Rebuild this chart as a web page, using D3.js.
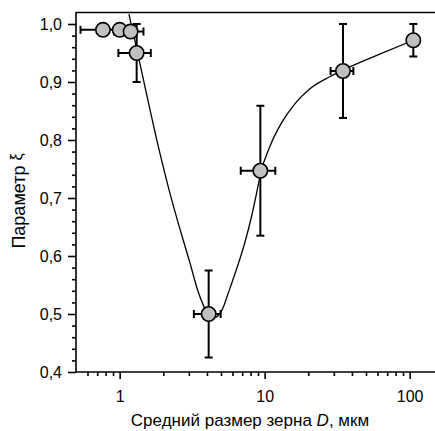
<!DOCTYPE html>
<html>
<head>
<meta charset="utf-8">
<script src="https://cdn.jsdelivr.net/npm/d3@7"></script>
<style>
  body { margin: 0; background: #fff; }
  svg text { font-family: "Liberation Sans", Arial, sans-serif; fill: #000; }
</style>
</head>
<body>
<div id="chart"></div>
<script>
// --- data ---
const grainD  = [0.767, 1.0, 1.19, 1.31, 4.11, 9.34, 34.7, 106];
const xiValue = [0.99, 0.99, 0.987, 0.95, 0.50, 0.747, 0.919, 0.972];
const dErr    = [0.23, 0, 0.27, 0.33, 0.86, 2.5, 6.2, 0];
const xiErr   = [0, 0, 0, 0.05, 0.075, 0.112, 0.081, 0.028];

// fitted curve (approximate trace)
const fitD  = [1.159, 1.374, 1.610, 1.888, 2.212, 2.594, 3.039, 3.451, 3.796, 4.110, 4.378,
               4.667, 5.132, 5.645, 6.411, 7.280, 8.134, 8.807, 9.384, 10.83, 13.04, 16.10,
               20.43, 28.08, 38.58, 62.11, 106.1];
const fitXi = [1.017, 0.934, 0.855, 0.779, 0.710, 0.648, 0.590, 0.541, 0.514, 0.498, 0.493,
               0.495, 0.509, 0.538, 0.578, 0.622, 0.669, 0.709, 0.743, 0.788, 0.829, 0.862,
               0.888, 0.909, 0.926, 0.948, 0.972];

const xMajor = [1, 10, 100];
const yMajor = [0.4, 0.5, 0.6, 0.7, 0.8, 0.9, 1.0];

const W = 435, H = 431;
const mLeft = 76, mTop = 12, mBottom = 372;

const svg = d3.select("#chart").append("svg")
    .attr("width", W).attr("height", H);

const x = d3.scaleLog().domain([0.5, 200]).range([mLeft, mLeft + 145 * Math.log10(400)]);
const y = d3.scaleLinear().domain([0.4, 1.0]).range([mBottom, mBottom - 348]);

// minor ticks
const xMinor = [];
[0.1, 1, 10, 100].forEach(p => { for (let k = 2; k <= 9; k++) { const v = p * k; if (v > 0.5 && v < 200) xMinor.push(v); } });
const yMinor = d3.range(0.42, 1.0, 0.02).filter(v => Math.abs(v * 10 - Math.round(v * 10)) > 1e-6);

const xMinorAxis = svg.append("g").attr("transform", `translate(0,${mBottom})`)
    .call(d3.axisBottom(x).tickValues(xMinor).tickSize(4).tickFormat(""));
xMinorAxis.select(".domain").remove();

const xAxis = svg.append("g").attr("transform", `translate(0,${mBottom})`)
    .call(d3.axisBottom(x).tickValues(xMajor).tickSize(7).tickPadding(12).tickFormat(d3.format("d")));
xAxis.select(".domain").attr("d", `M${mLeft},0H${W + 20}`);

const yMinorAxis = svg.append("g").attr("transform", `translate(${mLeft},0)`)
    .call(d3.axisLeft(y).tickValues(yMinor).tickSize(4).tickFormat(""));
yMinorAxis.select(".domain").remove();

const yAxis = svg.append("g").attr("transform", `translate(${mLeft},0)`)
    .call(d3.axisLeft(y).tickValues(yMajor).tickSize(8).tickPadding(6).tickFormat(d => d3.format(".1f")(d).replace(".", ",")));
yAxis.select(".domain").attr("d", `M0,${mBottom}V${mTop}`);

svg.selectAll(".tick text").attr("font-size", 16).attr("font-family", "Liberation Sans, Arial, sans-serif");
svg.selectAll(".domain, .tick line").attr("stroke", "#000").attr("stroke-width", 1.6);

// top frame line
svg.append("line").attr("x1", mLeft).attr("x2", W).attr("y1", mTop + 0.5).attr("y2", mTop + 0.5)
    .attr("stroke", "#000").attr("stroke-width", 1.6);

// fitted curve
const fit = fitD.map((d, i) => [d, fitXi[i]]);
svg.append("path").datum(fit)
    .attr("fill", "none").attr("stroke", "#000").attr("stroke-width", 1.3)
    .attr("d", d3.line().x(d => x(d[0])).y(d => y(d[1])).curve(d3.curveMonotoneX));

// error bars
const pts = grainD.map((d, i) => ({ d, xi: xiValue[i], ex: dErr[i], ey: xiErr[i] }));
const eb = svg.append("g").attr("stroke", "#000").attr("stroke-width", 2);
const cap = 4;
pts.forEach(p => {
  if (p.ey > 0) {
    const cx = x(p.d), y1 = y(p.xi + p.ey), y2 = y(p.xi - p.ey);
    eb.append("line").attr("x1", cx).attr("x2", cx).attr("y1", y1).attr("y2", y2);
    eb.append("line").attr("x1", cx - cap).attr("x2", cx + cap).attr("y1", y1).attr("y2", y1);
    eb.append("line").attr("x1", cx - cap).attr("x2", cx + cap).attr("y1", y2).attr("y2", y2);
  }
  if (p.ex > 0) {
    const cy = y(p.xi), x1 = x(p.d - p.ex), x2 = x(p.d + p.ex);
    eb.append("line").attr("x1", x1).attr("x2", x2).attr("y1", cy).attr("y2", cy);
    eb.append("line").attr("x1", x1).attr("x2", x1).attr("y1", cy - cap).attr("y2", cy + cap);
    eb.append("line").attr("x1", x2).attr("x2", x2).attr("y1", cy - cap).attr("y2", cy + cap);
  }
});

// markers
svg.append("g").selectAll("circle").data(pts).join("circle")
    .attr("cx", p => x(p.d)).attr("cy", p => y(p.xi)).attr("r", 7.2)
    .attr("fill", "#c0c0c0").attr("stroke", "#000").attr("stroke-width", 1.6);

// axis titles
const xt = svg.append("text").attr("x", 250).attr("y", 426).attr("text-anchor", "middle").attr("font-size", 17);
xt.append("tspan").text("Средний размер зерна ");
xt.append("tspan").attr("font-style", "italic").text("D");
xt.append("tspan").text(", мкм");

const yt = svg.append("text").attr("transform", "translate(25,201) rotate(-90)")
    .attr("text-anchor", "middle").attr("font-size", 18);
yt.append("tspan").text("Параметр ");
yt.append("tspan").attr("font-size", 16).attr("dy", -3).text("ξ");
</script>
</body>
</html>
